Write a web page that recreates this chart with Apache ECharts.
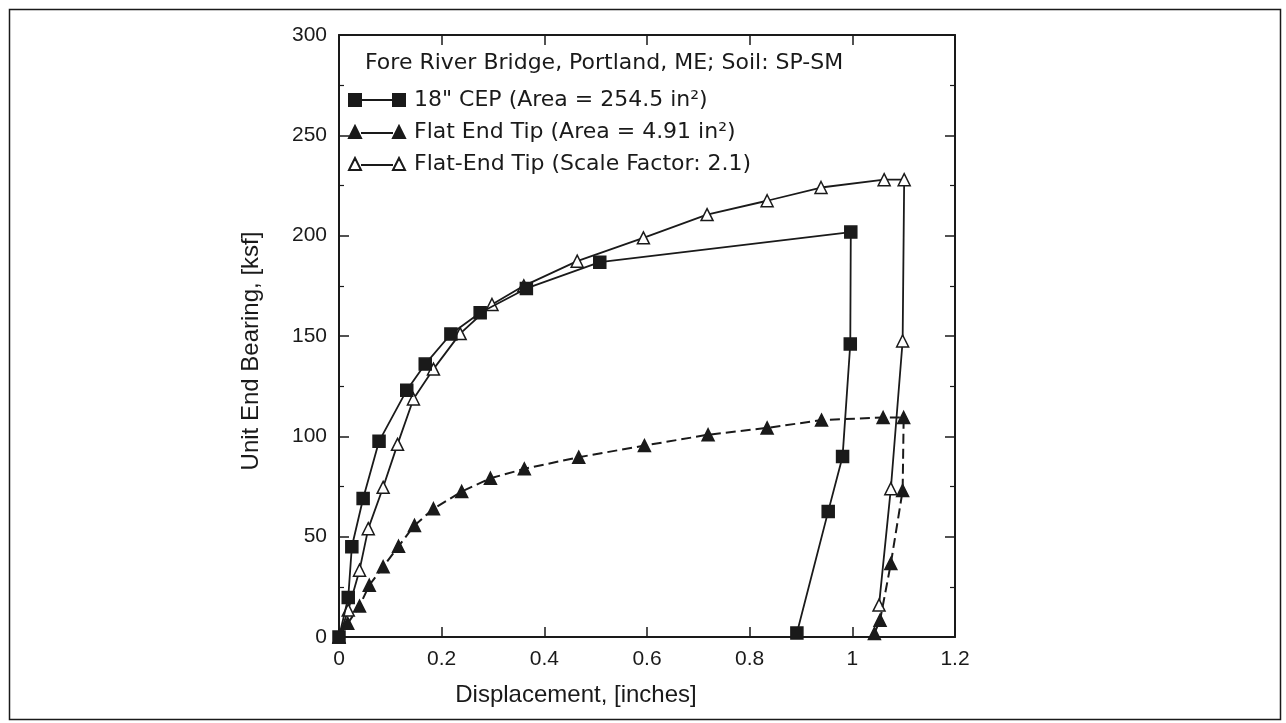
<!DOCTYPE html>
<html>
<head>
<meta charset="utf-8">
<script src="https://cdn.jsdelivr.net/npm/echarts@6/dist/echarts.min.js"></script>
<style>
  html, body { margin: 0; padding: 0; background: #fff; }
  #main { width: 1286px; height: 723px; }
</style>
</head>
<body>
<div id="main"></div>
<script>
// [displacement (in), unit end bearing (ksf)]
var cepData = [[0, 0], [0.018, 19.7], [0.025, 45], [0.047, 69], [0.078, 97.5], [0.132, 123], [0.168, 136],
  [0.218, 151], [0.275, 161.6], [0.365, 173.7], [0.508, 186.8], [0.997, 201.8], [0.996, 146],
  [0.981, 90], [0.953, 62.6], [0.892, 2]];
var flatData = [[0, 0], [0.017, 6.8], [0.04, 15.4], [0.059, 25.8], [0.086, 35], [0.116, 45.2], [0.147, 55.6],
  [0.184, 63.9], [0.239, 72.5], [0.295, 79.1], [0.361, 83.8], [0.467, 89.6], [0.595, 95.4], [0.719, 100.8],
  [0.834, 104.2], [0.94, 108.1], [1.06, 109.4], [1.1, 109.4], [1.098, 73], [1.075, 36.6], [1.054, 8.4], [1.043, 1.8]];
var scaledData = [[0, 0], [0.018, 13.4], [0.04, 33.3], [0.057, 54], [0.086, 74.6], [0.114, 96], [0.145, 118.6],
  [0.184, 133.5], [0.236, 151.2], [0.298, 165.7], [0.36, 175], [0.464, 187.3], [0.593, 198.9], [0.717, 210.5],
  [0.834, 217.4], [0.939, 224], [1.062, 227.9], [1.101, 227.9], [1.098, 147.5], [1.075, 73.9], [1.052, 15.9]];

var seriesNames = ['18" CEP (Area = 254.5 in²)', 'Flat End Tip (Area = 4.91 in²)', 'Flat-End Tip (Scale Factor: 2.1)'];
var chartNote = 'Fore River Bridge, Portland, ME; Soil: SP-SM';

var FONT = 'Liberation Sans, Arial, sans-serif';
var TEXT_FONT = 'DejaVu Sans, sans-serif';
var INK = '#1a1a1a';
var myChart = echarts.init(document.getElementById('main'));

// legend glyphs: marker, short connector, marker
var iconSquare = 'path://M0,0h12v12h-12z M12,6h32 M44,0h12v12h-12z';
var iconTri = 'path://M0,12L6,0L12,12z M12,7h32 M44,12L50,0L56,12z';

// ticks point into the plot (negative length flips them)
function frameAxis(showLabel, minor) {
  return {
    axisLine: { show: true, onZero: false, lineStyle: { color: INK, width: 2 } },
    axisTick: { show: true, inside: false, length: -10, lineStyle: { color: INK, width: 1.5 } },
    minorTick: { show: minor, splitNumber: 2, length: -5, lineStyle: { color: INK, width: 1.2 } },
    splitLine: { show: false },
    axisLabel: { show: showLabel, color: INK, fontSize: 21, fontFamily: FONT, margin: 12 }
  };
}

var option = {
  backgroundColor: '#fff',
  animation: false,
  title: {
    text: chartNote,
    left: 365, top: 52, padding: 0,
    textStyle: { fontSize: 22, fontWeight: 'normal', color: INK, fontFamily: TEXT_FONT }
  },
  legend: {
    orient: 'vertical',
    left: 348, top: 89, padding: 0,
    itemWidth: 56, itemHeight: 12, itemGap: 10,
    data: [
      { name: seriesNames[0], icon: iconSquare },
      { name: seriesNames[1], icon: iconTri },
      { name: seriesNames[2], icon: iconTri }
    ],
    textStyle: { fontSize: 22, lineHeight: 22, color: INK, fontFamily: TEXT_FONT, padding: [0, 0, 0, 4] }
  },
  grid: { left: 339, right: 331, top: 35, bottom: 86 },
  xAxis: [
    Object.assign(frameAxis(true, false), {
      type: 'value', min: 0, max: 1.2, interval: 0.2, position: 'bottom',
      name: 'Displacement, [inches]', nameLocation: 'middle', nameGap: 46,
      nameTextStyle: { fontSize: 24, color: INK, fontFamily: FONT, padding: [0, 142, 0, 0] }
    }),
    Object.assign(frameAxis(false, false), { type: 'value', min: 0, max: 1.2, interval: 0.2, position: 'top' })
  ],
  yAxis: [
    Object.assign(frameAxis(true, true), {
      type: 'value', min: 0, max: 300, interval: 50, position: 'left',
      name: 'Unit End Bearing, [ksf]', nameLocation: 'middle', nameGap: 76,
      nameTextStyle: { fontSize: 24, color: INK, fontFamily: FONT, padding: [0, 30, 0, 0] }
    }),
    Object.assign(frameAxis(false, true), { type: 'value', min: 0, max: 300, interval: 50, position: 'right' })
  ],
  graphic: [{
    type: 'rect', left: 7, top: 7,
    shape: { width: 1271, height: 710 },
    style: { fill: 'none', stroke: INK, lineWidth: 1.5 }
  }],
  series: [
    {
      name: seriesNames[2], type: 'line', data: scaledData,
      symbol: 'triangle', symbolSize: 12,
      itemStyle: { color: '#fff', borderColor: INK, borderWidth: 1.5 },
      lineStyle: { color: INK, width: 1.8 }, z: 2
    },
    {
      name: seriesNames[1], type: 'line', data: flatData,
      symbol: 'triangle', symbolSize: 12,
      itemStyle: { color: INK, borderColor: INK, borderWidth: 1.5 },
      lineStyle: { color: INK, width: 2, type: [10, 5] }, z: 3
    },
    {
      name: seriesNames[0], type: 'line', data: cepData,
      symbol: 'rect', symbolSize: 12,
      itemStyle: { color: INK, borderColor: INK, borderWidth: 1.5 },
      lineStyle: { color: INK, width: 1.8 }, z: 4
    }
  ]
};
myChart.setOption(option);
</script>
</body>
</html>
